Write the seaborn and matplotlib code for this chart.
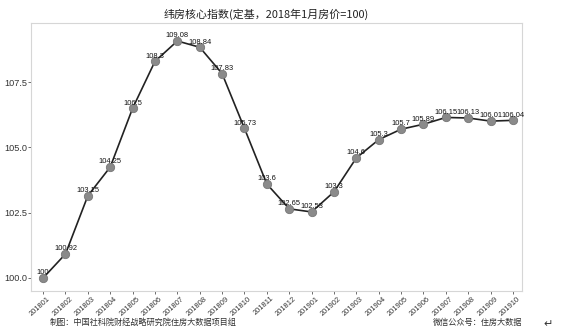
import matplotlib
matplotlib.use("Agg")
import matplotlib.pyplot as plt
import matplotlib.transforms as mtransforms
import seaborn as sns
import pandas as pd

months = ["201801", "201802", "201803", "201804", "201805", "201806", "201807",
          "201808", "201809", "201810", "201811", "201812", "201901", "201902",
          "201903", "201904", "201905", "201906", "201907", "201908", "201909", "201910"]
values = [100, 100.92, 103.15, 104.25, 106.5, 108.3, 109.08, 108.84, 107.83, 105.73,
          103.6, 102.65, 102.53, 103.3, 104.6, 105.3, 105.7, 105.89, 106.15, 106.13,
          106.01, 106.04]
labels = ["100", "100.92", "103.15", "104.25", "106.5", "108.3", "109.08", "108.84",
          "107.83", "105.73", "103.6", "102.65", "102.53", "103.3", "104.6", "105.3",
          "105.7", "105.89", "106.15", "106.13", "106.01", "106.04"]

df = pd.DataFrame({"month": months, "value": values, "x": range(len(months))})

sns.set_theme(style="white")
plt.rcParams["font.family"] = ["Noto Sans CJK SC", "DejaVu Sans"]
NUM = ["Liberation Sans", "DejaVu Sans"]

fig = plt.figure(figsize=(5.61, 3.33), dpi=100)
ax = fig.add_axes([0.0553, 0.126, 0.875, 0.805])

sns.lineplot(data=df, x="x", y="value", ax=ax, color="#222222", linewidth=1.2,
             marker="o", markersize=6, markerfacecolor="#8a8a8a",
             markeredgecolor="#777777", markeredgewidth=0.6)

for xi, v, lab in zip(df["x"], values, labels):
    ax.text(xi, v + 0.2, lab, ha="center", va="center", fontsize=5.4,
            color="#111111", family=NUM)

ax.set_xlim(-0.54, len(months) - 1 + 0.4)
ax.set_ylim(99.5, 109.77)
ax.set_yticks([100.0, 102.5, 105.0, 107.5])
ax.set_yticklabels(["100.0", "102.5", "105.0", "107.5"], fontsize=6.6, color="#333333",
                   family=NUM)
ax.set_xticks(list(df["x"]))
ax.set_xticklabels(months, rotation=42, ha="right", va="top", rotation_mode="anchor",
                   fontsize=5.4, color="#333333", family=NUM)
ax.tick_params(axis="both", length=2, width=0.6, color="#555555", pad=1, bottom=True, left=True)
offset = mtransforms.ScaledTranslation(4 / 100, 0, fig.dpi_scale_trans)
for t in ax.get_xticklabels():
    t.set_transform(t.get_transform() + offset)
ax.set_xlabel("")
ax.set_ylabel("")
for s in ax.spines.values():
    s.set_color("#d6d6d6")
    s.set_linewidth(0.8)

fig.text(0.474, 0.958, "纬房核心指数(定基，2018年1月房价=100)", ha="center", va="center",
         fontsize=7.9, color="#222222")
fig.text(0.089, 0.031, "制图：中国社科院财经战略研究院住房大数据项目组", ha="left", va="center",
         fontsize=5.9, color="#333333")
fig.text(0.772, 0.031, "微信公众号：住房大数据", ha="left", va="center",
         fontsize=5.9, color="#333333")
fig.text(0.977, 0.028, "↵", ha="center", va="center", fontsize=8, color="#333333",
         family=["DejaVu Sans"])

fig.savefig("out.png", dpi=100)
